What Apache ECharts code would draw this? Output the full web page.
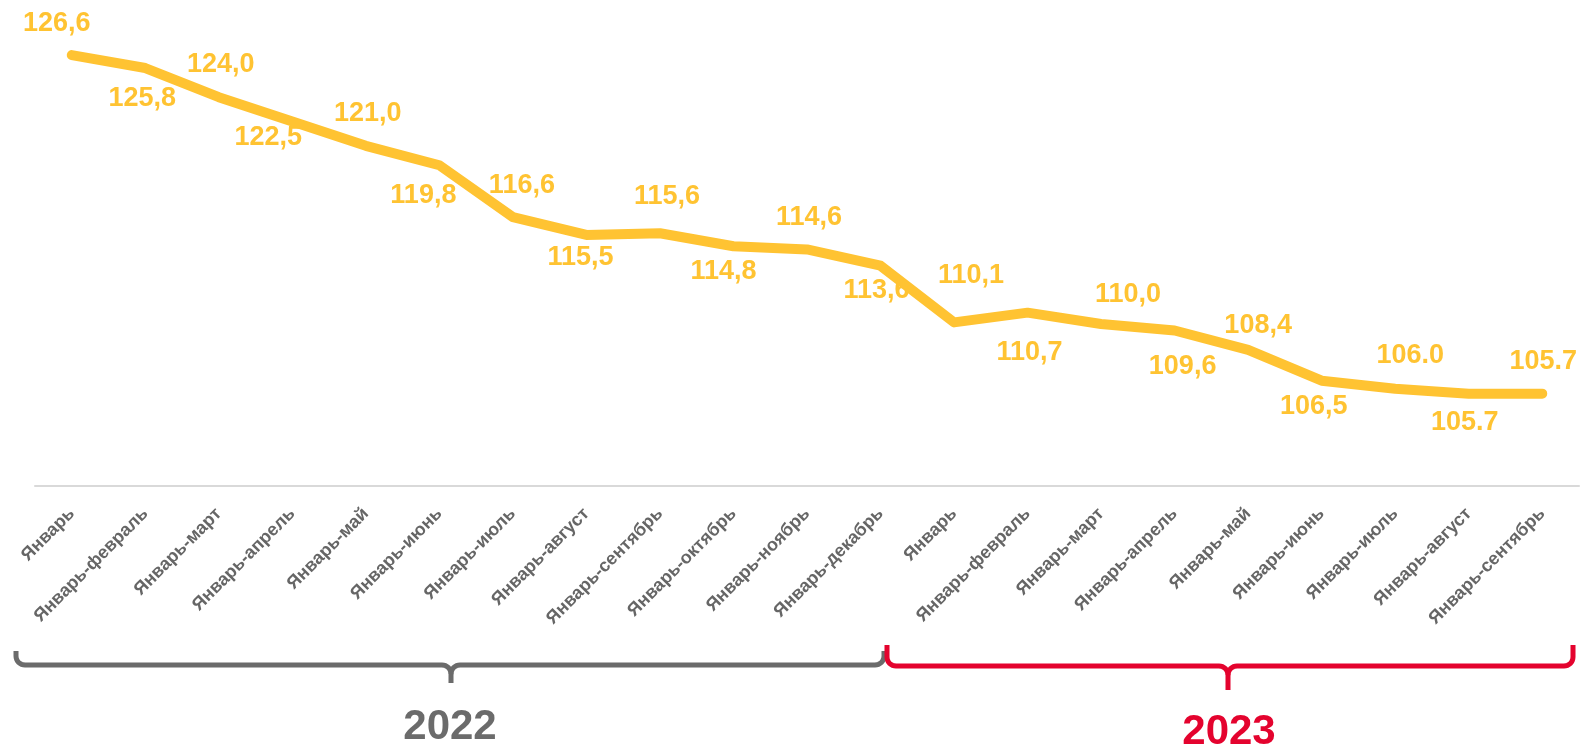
<!DOCTYPE html>
<html>
<head>
<meta charset="utf-8">
<script src="https://cdn.jsdelivr.net/npm/echarts@6/dist/echarts.min.js"></script>
<style>
  html, body { margin: 0; padding: 0; background: #fff; }
  #chart { width: 1581px; height: 748px; }
</style>
</head>
<body>
<div id="chart"></div>
<script>
// categories (2022: 12 periods, 2023: 9 periods)
var months = ['Январь', 'Январь-февраль', 'Январь-март', 'Январь-апрель', 'Январь-май', 'Январь-июнь',
    'Январь-июль', 'Январь-август', 'Январь-сентябрь', 'Январь-октябрь', 'Январь-ноябрь', 'Январь-декабрь',
    'Январь', 'Январь-февраль', 'Январь-март', 'Январь-апрель', 'Январь-май', 'Январь-июнь',
    'Январь-июль', 'Январь-август', 'Январь-сентябрь'];

var values = [126.6, 125.8, 124.0, 122.5, 121.0, 119.8, 116.6, 115.5, 115.6, 114.8, 114.6, 113.6,
    110.1, 110.7, 110.0, 109.6, 108.4, 106.5, 106.0, 105.7, 105.7];

// label text as written on the original (mixed comma / dot)
var valueLabels = ['126,6', '125,8', '124,0', '122,5', '121,0', '119,8', '116,6', '115,5', '115,6', '114,8', '114,6', '113,6',
    '110,1', '110,7', '110,0', '109,6', '108,4', '106,5', '106.0', '105.7', '105.7'];

var years = ['2022', '2023'];

// label nudges relative to the point (layout only)
var labelNudge = [[-15, -32], [-3, 31], [2, -33], [-24, 16], [2, -32], [-16, 30], [9, -32], [-6, 23],
    [7, -37], [-10, 25], [2, -32], [-4, 25], [17, -47], [2, 40], [27, -29], [8, 36], [10, -24],
    [-8, 26], [15, -33], [-4, 29], [1, -32]];

var lineColor = '#FFC332';

// quarter arc points from angle a0 to a1 around (cx, cy)
function arcPts(cx, cy, r, a0, a1) {
    var pts = [];
    for (var k = 0; k <= 8; k++) {
        var a = a0 + (a1 - a0) * k / 8;
        pts.push([cx + r * Math.cos(a), cy + r * Math.sin(a)]);
    }
    return pts;
}

// curly brace as two polylines (left half, right half)
function brace(x0, x1, xm, yTop, yH, yTip, r, color) {
    var P = Math.PI;
    var left = [[x0, yTop]]
        .concat(arcPts(x0 + r, yH - r, r, P, P / 2))
        .concat(arcPts(xm - r, yH + r, r, -P / 2, 0))
        .concat([[xm, yTip]]);
    var right = [[xm, yH + r]]
        .concat(arcPts(xm + r, yH + r, r, P, 3 * P / 2))
        .concat(arcPts(x1 - r, yH - r, r, P / 2, 0))
        .concat([[x1, yTop]]);
    var st = { fill: null, stroke: color, lineWidth: 5 };
    return [
        { type: 'polyline', shape: { points: left }, style: st },
        { type: 'polyline', shape: { points: right }, style: st }
    ];
}

var chart = echarts.init(document.getElementById('chart'));

chart.setOption({
    animation: false,
    backgroundColor: '#fff',
    grid: {
        left: 35,
        right: 2,
        top: 0,
        height: 486,
        containLabel: false
    },
    xAxis: {
        type: 'category',
        data: months,
        boundaryGap: true,
        axisLine: { lineStyle: { color: '#d9d9d9', width: 2 } },
        axisTick: { show: false },
        axisLabel: {
            interval: 0,
            rotate: 45,
            margin: 25,
            color: '#666666',
            fontFamily: 'Liberation Sans, Arial, sans-serif',
            fontWeight: 'bold',
            fontSize: 18
        }
    },
    yAxis: {
        type: 'value',
        min: 100,
        max: 130,
        show: false,
        splitLine: { show: false }
    },
    series: [{
        type: 'line',
        data: values,
        symbol: 'circle',
        symbolSize: 1,
        showSymbol: true,
        itemStyle: { color: 'rgba(0,0,0,0)' },
        lineStyle: { color: lineColor, width: 10, cap: 'round', join: 'round' },
        label: {
            show: true,
            position: 'inside',
            align: 'center',
            verticalAlign: 'middle',
            color: lineColor,
            fontFamily: 'Liberation Sans, Arial, sans-serif',
            fontWeight: 'bold',
            fontSize: 27,
            formatter: function (p) { return valueLabels[p.dataIndex]; }
        },
        labelLayout: function (p) {
            var n = labelNudge[p.dataIndex];
            return { dx: n[0], dy: n[1], hideOverlap: false };
        },
        emphasis: { disabled: true }
    }],
    graphic: brace(16, 884, 451, 651, 665, 683, 9, '#6b6b6b')
        .concat(brace(887, 1573, 1228, 645, 666, 690, 9, '#e4032e'))
        .concat([
            {
                type: 'text',
                x: 450,
                y: 727,
                style: {
                    text: years[0],
                    fill: '#6b6b6b',
                    align: 'center',
                    verticalAlign: 'middle',
                    font: 'bold 42px "Liberation Sans", Arial, sans-serif'
                }
            },
            {
                type: 'text',
                x: 1229,
                y: 732,
                style: {
                    text: years[1],
                    fill: '#e4032e',
                    align: 'center',
                    verticalAlign: 'middle',
                    font: 'bold 42px "Liberation Sans", Arial, sans-serif'
                }
            }
        ])
});
</script>
</body>
</html>
